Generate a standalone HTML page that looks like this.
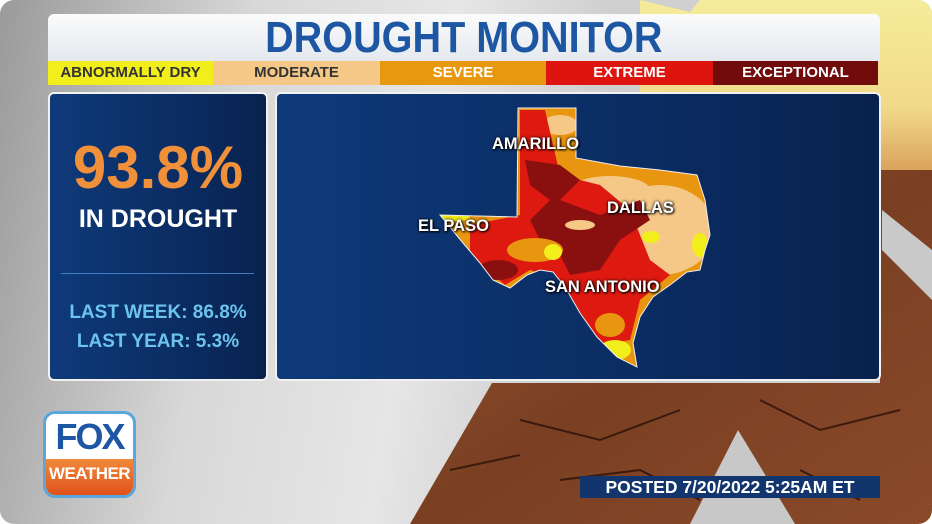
<!DOCTYPE html>
<html><head><style>
*{margin:0;padding:0;box-sizing:border-box}
body{width:932px;height:524px;overflow:hidden;background:#fff;font-family:"Liberation Sans",sans-serif}
.frame{position:absolute;left:0;top:0;width:932px;height:524px;border-radius:14px;overflow:hidden;background:linear-gradient(100deg,#9a9a9a 0%,#d8d8d8 25%,#e6e6e6 45%,#cfcfcf 60%)}
.abs{position:absolute}
.title{left:48px;top:14px;width:832px;height:48px;background:linear-gradient(#fbfbfb,#e4e8ee);border-radius:6px 6px 0 0;text-align:center;color:#1d56a3;font-weight:bold;font-size:44px;line-height:48px}
.title span{display:inline-block;transform:scaleX(1.05)}
.leg{top:61px;height:24px;font-size:15px;line-height:24px;text-align:center;font-weight:bold}
.panel{border:2px solid #f2f2f2;border-radius:6px;background:linear-gradient(90deg,#0e3a7a,#0a2a5e 70%,#08224d)}
.lbl{color:#fff;font-weight:bold;font-size:16.5px;text-shadow:0 0 3px #000,1px 1px 2px #000}
</style></head><body>
<div class="frame">
 <div class="abs" style="left:640px;top:0;width:292px;height:180px;background:linear-gradient(180deg,#f4ec9a,#f1d98a 60%,#d89a55)"></div>
 <svg class="abs" style="left:0;top:0" width="932" height="524">
  <defs><linearGradient id="dg" x1="0" y1="0" x2="1" y2="1"><stop offset="0" stop-color="#9a5a34"/><stop offset="0.5" stop-color="#7a3f22"/><stop offset="1" stop-color="#8a4a2a"/></linearGradient></defs>
  <polygon points="492,383 880,383 880,170 932,170 932,524 410,524" fill="url(#dg)"/>
  <polygon points="882,210 932,250 932,300 882,250" fill="#c9c9c9"/>
  <path d="M520,420 L600,440 L680,410 M560,480 L640,470 L700,500 M760,400 L820,430 L900,410 M800,470 L860,500 M450,470 L520,455" stroke="#3a1a0c" stroke-width="2" fill="none"/>
  <polygon points="738,430 690,524 795,524" fill="#c8c8c8"/>
  <polygon points="640,0 700,0 690,12" fill="#d0d0d0"/>
 </svg>
 <div class="abs title"><span style="transform:scaleX(0.9)">DROUGHT MONITOR</span></div>
 <div class="abs leg" style="left:48px;width:165px;background:#f2ee1c;color:#333">ABNORMALLY DRY</div>
 <div class="abs leg" style="left:213px;width:167px;background:#f5c888;color:#333">MODERATE</div>
 <div class="abs leg" style="left:380px;width:166px;background:#e8980f;color:#fff">SEVERE</div>
 <div class="abs leg" style="left:546px;width:167px;background:#de150f;color:#fff">EXTREME</div>
 <div class="abs leg" style="left:713px;width:165px;background:#720b0b;color:#fff">EXCEPTIONAL</div>

 <div class="abs panel" style="left:48px;top:92px;width:220px;height:289px"></div>
 <div class="abs" style="left:48px;top:133px;width:220px;text-align:center;color:#f0903a;font-weight:bold;font-size:60px">93.8%</div>
 <div class="abs" style="left:48px;top:205px;width:220px;text-align:center;color:#fff;font-weight:bold;font-size:25px">IN DROUGHT</div>
 <div class="abs" style="left:61px;top:273px;width:193px;height:1px;background:#3f7ec0"></div>
 <div class="abs" style="left:48px;top:298px;width:220px;text-align:center;color:#6cc3ee;font-weight:bold;font-size:19px;line-height:29px">LAST WEEK: 86.8%<br>LAST YEAR: 5.3%</div>

 <div class="abs panel" style="left:275px;top:92px;width:606px;height:289px"></div>
 <svg class="abs" style="left:0;top:0" width="932" height="524">
  <defs><clipPath id="tx"><polygon id="txp" points="518,108 576,108 576,158 620,166 660,170 697,175 705,200 710,235 705,250 700,270 687,272 670,285 653,297 640,317 633,343 637,367 617,357 597,337 580,313 565,287 553,272 540,270 527,275 510,288 493,280 480,263 463,243 440,215 517,217"/></clipPath></defs>
  <g clip-path="url(#tx)">
   <rect x="430" y="100" width="290" height="280" fill="#e8960f"/>
   <ellipse cx="660" cy="230" rx="55" ry="45" fill="#f5c888"/>
   <ellipse cx="610" cy="190" rx="40" ry="14" fill="#f5c888"/>
   <ellipse cx="560" cy="125" rx="18" ry="10" fill="#f5c888"/>
   <path d="M520,110 L545,110 L560,175 L600,185 L630,210 L650,260 L670,275 L640,300 L630,340 L600,345 L575,310 L560,280 L530,270 L505,285 L470,255 L470,225 L520,215 Z" fill="#de1a10"/>
   <path d="M525,160 L560,165 L580,180 L560,200 L600,215 L640,200 L650,220 L620,240 L600,270 L570,275 L560,255 L540,240 L530,220 L550,200 L530,185 Z" fill="#8a1010"/>
   <ellipse cx="498" cy="270" rx="20" ry="10" fill="#8a1010"/>
   <ellipse cx="535" cy="250" rx="28" ry="12" fill="#e8960f"/>
   <ellipse cx="553" cy="252" rx="9" ry="8" fill="#f2ee1c"/>
   <ellipse cx="610" cy="325" rx="15" ry="12" fill="#e8960f"/>
   <ellipse cx="615" cy="350" rx="16" ry="10" fill="#f2ee1c"/>
   <ellipse cx="700" cy="245" rx="8" ry="12" fill="#f2ee1c"/>
   <ellipse cx="651" cy="237" rx="9" ry="6" fill="#f2ee1c"/>
   <ellipse cx="455" cy="217" rx="15" ry="4" fill="#f2ee1c"/>
   <ellipse cx="580" cy="225" rx="15" ry="5" fill="#f5c888"/>
  </g>
  <use href="#txp" fill="none" stroke="#eee" stroke-width="1"/>
 </svg>
 <div class="abs lbl" style="left:492px;top:135px">AMARILLO</div>
 <div class="abs lbl" style="left:607px;top:199px">DALLAS</div>
 <div class="abs lbl" style="left:418px;top:217px">EL PASO</div>
 <div class="abs lbl" style="left:545px;top:278px">SAN ANTONIO</div>

 <div class="abs" style="left:43px;top:411px;width:93px;height:87px;border-radius:12px;background:#fff;border:3px solid #5aa7dc;overflow:hidden">
  <div style="height:45px;text-align:center;color:#1d56a3;font-weight:bold;font-size:36px;line-height:46px;letter-spacing:-2px">FOX</div>
  <div style="height:37px;background:linear-gradient(#f08a3a,#e0501a);text-align:center;color:#fff;font-weight:bold;font-size:17px;line-height:30px;letter-spacing:-0.5px">WEATHER</div>
 </div>
 <div class="abs" style="left:580px;top:476px;width:300px;height:22px;background:#12356e;color:#fff;font-weight:bold;font-size:17.5px;line-height:22px;text-align:center;white-space:nowrap">POSTED 7/20/2022 5:25AM ET</div>
</div>
</body></html>
